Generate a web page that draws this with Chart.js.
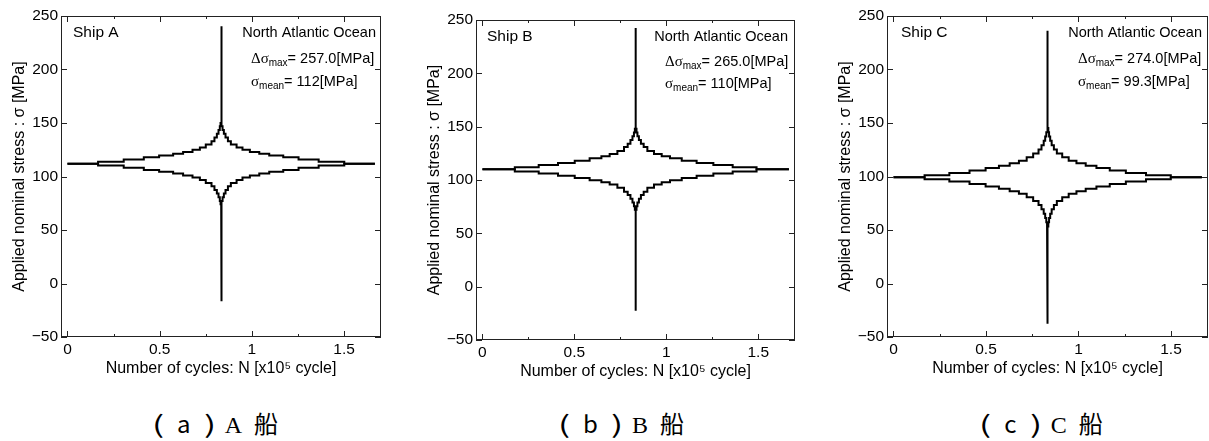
<!DOCTYPE html>
<html>
<head>
<meta charset="utf-8">
<script src="https://cdn.jsdelivr.net/npm/chart.js@4.4.0/dist/chart.umd.min.js"></script>
<style>
  body { margin: 0; background: #fff; }
  #wrap { position: relative; width: 1209px; height: 441px; overflow: hidden; }
  canvas { position: absolute; top: 0; }
  .cap { position: absolute; top: 405px; width: 240px; text-align: center;
         font: 24px "Noto Sans CJK JP", sans-serif; color: #000; line-height: 36px; }
  .cap span { display: inline-block; }
  .cap .p1 { margin-right: 15px; transform: scaleX(1.5); }
  .cap .l { margin-right: 15px; }
  .cap .p2 { margin-right: 11px; transform: scaleX(1.5); }
  .cap .ser { font-family: "Liberation Serif", serif; margin-right: 12px; }
</style>
</head>
<body>
<div id="wrap">
  <canvas id="c0" width="400" height="390" style="left:0px"></canvas>
  <canvas id="c1" width="400" height="393" style="left:415px"></canvas>
  <canvas id="c2" width="383" height="390" style="left:826px"></canvas>
  <div class="cap" style="left:96px"><span class="p1">(</span><span class="l">a</span><span class="p2">)</span><span class="ser">A</span><span>船</span></div>
  <div class="cap" style="left:502px"><span class="p1">(</span><span class="l">b</span><span class="p2">)</span><span class="ser">B</span><span>船</span></div>
  <div class="cap" style="left:922px"><span class="p1">(</span><span class="l">c</span><span class="p2">)</span><span class="ser">C</span><span>船</span></div>
</div>
<script>
// values (x in units of 1e5 cycles, stress in MPa)
const shipNames = ["Ship A", "Ship B", "Ship C"];
const seaArea = "North Atlantic Ocean";
const meanStress = [112, 110, 99.3];
const meanLabels = ["112", "110", "99.3"];
const rangeMax = [257.0, 265.0, 274.0];
const totalCycles = 1.667;
const centerCycle = 0.8335;

// left half of each envelope: start of each load block and its half range
const blockStartA = [0, 0.166, 0.305, 0.414, 0.497, 0.573, 0.627, 0.678, 0.718, 0.750, 0.781, 0.797, 0.810, 0.819, 0.826, 0.830];
const halfRangeA  = [0, 1.7, 3.8, 5.9, 7.6, 9.3, 11, 13, 15.2, 18, 21, 24.5, 28, 31.5, 35, 38];
const blockStartB = [0, 0.176, 0.306, 0.411, 0.502, 0.583, 0.647, 0.692, 0.734, 0.770, 0.790, 0.805, 0.816, 0.824, 0.829];
const halfRangeB  = [0, 2, 4, 5.9, 8.1, 10.3, 12.2, 14.3, 17.2, 21, 24, 27.5, 31, 34.5, 38];
const blockStartC = [0, 0.168, 0.302, 0.411, 0.498, 0.570, 0.628, 0.678, 0.720, 0.755, 0.784, 0.800, 0.812, 0.820, 0.826, 0.830];
const halfRangeC  = [0, 1.8, 4, 6.4, 8.7, 10.8, 13, 15.5, 18.6, 22.3, 26, 30, 34, 38, 42, 46];

const xTicks = [0, 0.5, 1, 1.5];
const xMinorTicks = [0.25, 0.75, 1.25];
const yTicks = [-50, 0, 50, 100, 150, 200, 250];

const blockStarts = [blockStartA, blockStartB, blockStartC];
const halfRanges = [halfRangeA, halfRangeB, halfRangeC];

// layout of each panel inside its canvas
const panels = [
  { top: 16, right: 19, xH: 53, shipDx: 12, seaDx: 5, noteDx: 130, l2: 43, l3: 66 },
  { top: 20, right: 20, xH: 53, shipDx: 11, seaDx: 7, noteDx: 130, l2: 42, l3: 64 },
  { top: 16, right: 1,  xH: 53, shipDx: 14, seaDx: 6, noteDx: 130, l2: 43, l3: 66 }
];

const FONT = '"Liberation Sans", Arial, sans-serif';

function envelope(starts, halves, mean, peak, sign) {
  const pts = [];
  const ends = starts.slice(1).concat([centerCycle]);
  for (let i = 0; i < starts.length; i++) {
    pts.push({ x: starts[i], y: mean + sign * halves[i] });
    pts.push({ x: ends[i], y: mean + sign * halves[i] });
  }
  pts.push({ x: centerCycle, y: mean + sign * peak });
  for (let i = starts.length - 1; i >= 0; i--) {
    pts.push({ x: totalCycles - ends[i], y: mean + sign * halves[i] });
    pts.push({ x: totalCycles - starts[i], y: mean + sign * halves[i] });
  }
  return pts;
}

function framePlugin(k) {
  const p = panels[k];
  return {
    id: "frame" + k,
    afterDraw(chart) {
      const ctx = chart.ctx;
      const a = chart.chartArea;
      const xs = chart.scales.x, ys = chart.scales.y;
      ctx.save();
      ctx.strokeStyle = "#222";
      ctx.lineWidth = 1;
      ctx.strokeRect(Math.round(a.left) + 0.5, Math.round(a.top) + 0.5,
                     Math.round(a.right - a.left) - 1, Math.round(a.bottom - a.top) - 1);
      ctx.beginPath();
      const tick = (vals, len) => {
        vals.forEach(v => {
          const px = Math.round(xs.getPixelForValue(v)) + 0.5;
          ctx.moveTo(px, a.bottom); ctx.lineTo(px, a.bottom - len);
          ctx.moveTo(px, a.top); ctx.lineTo(px, a.top + len);
        });
      };
      tick(xTicks, 6);
      tick(xMinorTicks, 3);
      yTicks.forEach(v => {
        const py = Math.round(ys.getPixelForValue(v)) + 0.5;
        ctx.moveTo(a.left, py); ctx.lineTo(a.left + 6, py);
        ctx.moveTo(a.right, py); ctx.lineTo(a.right - 6, py);
      });
      ctx.stroke();

      // notes in the corner
      ctx.fillStyle = "#000";
      ctx.textBaseline = "middle";
      ctx.font = "15.5px " + FONT;
      ctx.textAlign = "left";
      ctx.fillText(shipNames[k], a.left + p.shipDx, a.top + 17);
      ctx.font = "14.5px " + FONT;
      ctx.textAlign = "right";
      ctx.fillText(seaArea, a.right - p.seaDx, a.top + 17);
      ctx.textAlign = "left";
      const sub = (greek, subTxt, rest, y) => {
        let x = a.right - p.noteDx;
        ctx.font = '15px "Liberation Serif", serif';
        ctx.fillText(greek, x, y); x += ctx.measureText(greek).width;
        ctx.font = "10px " + FONT;
        ctx.fillText(subTxt, x, y + 4); x += ctx.measureText(subTxt).width;
        ctx.font = "14.5px " + FONT;
        ctx.fillText(rest, x, y);
      };
      sub("Δσ", "max", "= " + rangeMax[k].toFixed(1) + "[MPa]", a.top + p.l2);
      sub("σ", "mean", "= " + meanLabels[k] + "[MPa]", a.top + p.l3);
      ctx.restore();
    }
  };
}

function makeChart(k) {
  const p = panels[k];
  const half = rangeMax[k] / 2;
  const upper = envelope(blockStarts[k], halfRanges[k], meanStress[k], half, 1);
  const lower = envelope(blockStarts[k], halfRanges[k], meanStress[k], half, -1);
  const line = { showLine: true, borderColor: "#000", borderWidth: 2, pointRadius: 0,
                 fill: false, borderJoinStyle: "miter" };
  new Chart(document.getElementById("c" + k), {
    type: "scatter",
    data: { datasets: [ Object.assign({ data: upper }, line), Object.assign({ data: lower }, line) ] },
    options: {
      responsive: false,
      animation: false,
      devicePixelRatio: 1,
      layout: { padding: { top: p.top, right: p.right, left: 0, bottom: 0 } },
      plugins: { legend: { display: false }, tooltip: { enabled: false } },
      scales: {
        x: {
          type: "linear", min: -0.035, max: 1.7,
          grid: { display: false, drawTicks: false },
          border: { display: false },
          afterBuildTicks: s => { s.ticks = xTicks.map(v => ({ value: v })); },
          afterFit: s => { s.height = p.xH; },
          ticks: { color: "#000", font: { family: FONT, size: 15.5 }, padding: 3,
                   maxRotation: 0, autoSkip: false, callback: v => String(v) },
          title: { display: true, text: "Number of cycles: N [x10⁵ cycle]", color: "#000",
                   font: { family: FONT, size: 16 }, padding: { top: 0, bottom: 12 } }
        },
        y: {
          min: -50, max: 250,
          grid: { display: false, drawTicks: false },
          border: { display: false },
          afterBuildTicks: s => { s.ticks = yTicks.map(v => ({ value: v })); },
          afterFit: s => { s.width = 61; },
          ticks: { color: "#000", font: { family: FONT, size: 15.5 }, padding: 3,
                   callback: v => v < 0 ? "−" + Math.abs(v) : String(v) },
          title: { display: true, text: "Applied nominal stress : σ [MPa]", color: "#000",
                   font: { family: FONT, size: 16 }, padding: { top: 10, bottom: 0 } }
        }
      }
    },
    plugins: [framePlugin(k)]
  });
}

[0, 1, 2].forEach(makeChart);
</script>
</body>
</html>
